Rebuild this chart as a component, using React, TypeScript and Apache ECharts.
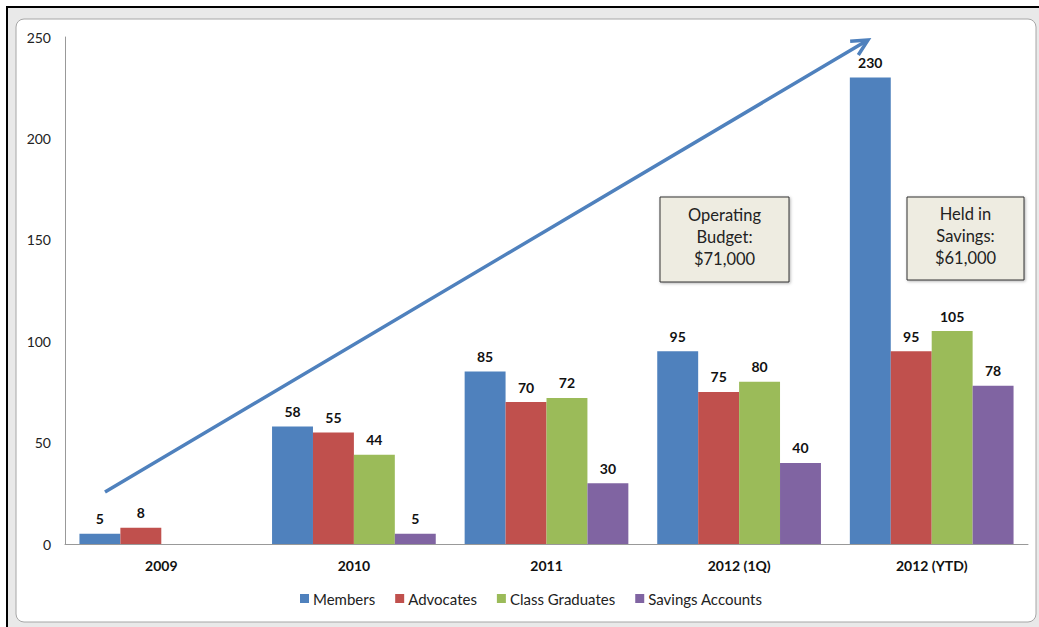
import React, { useEffect, useRef } from "react";
import * as echarts from "echarts";

const categories = ["2009", "2010", "2011", "2012 (1Q)", "2012 (YTD)"];
const members = [5, 58, 85, 95, 230];
const advocates = [8, 55, 70, 75, 95];
const classGraduates = [null, 44, 72, 80, 105];
const savingsAccounts = [null, 5, 30, 40, 78];
const seriesNames = ["Members", "Advocates", "Class Graduates", "Savings Accounts"];
const colors = ["#4F81BD", "#C0504D", "#9BBB59", "#8064A2"];
const yTicks = { min: 0, max: 250, interval: 50 };

const FONT = "Lato, 'Open Sans', sans-serif";

export default function App() {
  const ref = useRef<HTMLDivElement>(null);
  useEffect(() => {
    document.body.style.margin = "0";
    const chart = echarts.init(ref.current!, null, { renderer: "svg" });
    const data = [members, advocates, classGraduates, savingsAccounts];
    const tip = [868, 40];
    const start = [105, 492];
    const dx = tip[0] - start[0];
    const dy = tip[1] - start[1];
    const len = Math.sqrt(dx * dx + dy * dy);
    const ux = dx / len, uy = dy / len;
    const nx = -uy, ny = ux;
    const back = [tip[0] - 16 * ux, tip[1] - 16 * uy];
    const hw = 8;
    chart.setOption({
      animation: false,
      textStyle: { fontFamily: FONT },
      grid: { left: 65, right: 11, top: 37, bottom: 83 },
      legend: {
        data: seriesNames,
        bottom: 16,
        left: 295,
        itemWidth: 9,
        itemHeight: 9,
        itemGap: 20,
        icon: "rect",
        textStyle: { fontSize: 15, color: "#222", fontFamily: FONT, padding: [0, 0, 0, -1] },
      },
      xAxis: {
        type: "category",
        data: categories,
        axisLine: { lineStyle: { color: "#999" } },
        axisTick: { show: false },
        axisLabel: { fontWeight: "bold", fontSize: 14, color: "#111", margin: 14 },
      },
      yAxis: {
        type: "value",
        min: yTicks.min,
        max: yTicks.max,
        interval: yTicks.interval,
        axisLine: { show: true, lineStyle: { color: "#999" } },
        axisTick: { show: false },
        splitLine: { show: false },
        axisLabel: { fontSize: 14, color: "#222", margin: 14 },
      },
      series: seriesNames.map((name, i) => ({
        name,
        type: "bar",
        data: data[i],
        barGap: "0%",
        barCategoryGap: "15%",
        itemStyle: { color: colors[i] },
        label: {
          show: true,
          position: "top",
          distance: 8,
          fontWeight: "bold",
          fontSize: 14,
          color: "#111",
        },
      })),
      graphic: [
        {
          type: "rect",
          z: -10,
          shape: { x: 0, y: 0, width: 1039, height: 627 },
          style: { fill: "#e9e9e9" },
          silent: true,
        },
        {
          type: "rect",
          z: -9,
          shape: { x: 0, y: 0, width: 1039, height: 8 },
          style: { fill: "#ffffff" },
          silent: true,
        },
        {
          type: "rect",
          z: -9,
          shape: { x: 0, y: 0, width: 6, height: 627 },
          style: { fill: "#ffffff" },
          silent: true,
        },
        {
          type: "line",
          z: -8,
          shape: { x1: 6, y1: 7, x2: 1039, y2: 7 },
          style: { stroke: "#000", lineWidth: 2 },
          silent: true,
        },
        {
          type: "line",
          z: -8,
          shape: { x1: 7, y1: 6, x2: 7, y2: 627 },
          style: { stroke: "#000", lineWidth: 2 },
          silent: true,
        },
        {
          type: "rect",
          z: -7,
          shape: { x: 16, y: 19, width: 1020, height: 603, r: 8 },
          style: { fill: "#ffffff", stroke: "#a6a6a6", lineWidth: 1 },
          silent: true,
        },
        {
          type: "line",
          z: 10,
          shape: { x1: start[0], y1: start[1], x2: tip[0] - 3 * ux, y2: tip[1] - 3 * uy },
          style: { stroke: "#4F81BD", lineWidth: 3.5 },
          silent: true,
        },
        {
          type: "polyline",
          z: 10,
          shape: {
            points: [
              [back[0] + hw * nx, back[1] + hw * ny],
              [tip[0], tip[1]],
              [back[0] - hw * nx, back[1] - hw * ny],
            ],
          },
          style: { stroke: "#4F81BD", lineWidth: 3.5, fill: "none" },
          silent: true,
        },
        {
          type: "rect",
          z: 10,
          shape: { x: 660, y: 197, width: 129, height: 85 },
          style: { fill: "#EEECE1", stroke: "#333", lineWidth: 1, shadowBlur: 3, shadowColor: "rgba(0,0,0,0.3)", shadowOffsetX: 1, shadowOffsetY: 1 },
          silent: true,
        },
        {
          type: "text",
          z: 11,
          x: 724.5,
          y: 237,
          style: {
            text: "Operating\nBudget:\n$71,000",
            fontSize: 16.5,
            lineHeight: 22,
            fill: "#222",
            align: "center",
            verticalAlign: "middle",
            fontFamily: FONT,
          },
          silent: true,
        },
        {
          type: "rect",
          z: 10,
          shape: { x: 907, y: 197, width: 117, height: 83 },
          style: { fill: "#EEECE1", stroke: "#333", lineWidth: 1, shadowBlur: 3, shadowColor: "rgba(0,0,0,0.3)", shadowOffsetX: 1, shadowOffsetY: 1 },
          silent: true,
        },
        {
          type: "text",
          z: 11,
          x: 965.5,
          y: 236,
          style: {
            text: "Held in\nSavings:\n$61,000",
            fontSize: 16.5,
            lineHeight: 22,
            fill: "#222",
            align: "center",
            verticalAlign: "middle",
            fontFamily: FONT,
          },
          silent: true,
        },
      ],
    });
    return () => chart.dispose();
  }, []);
  return <div ref={ref} style={{ width: 1039, height: 627 }} />;
}
